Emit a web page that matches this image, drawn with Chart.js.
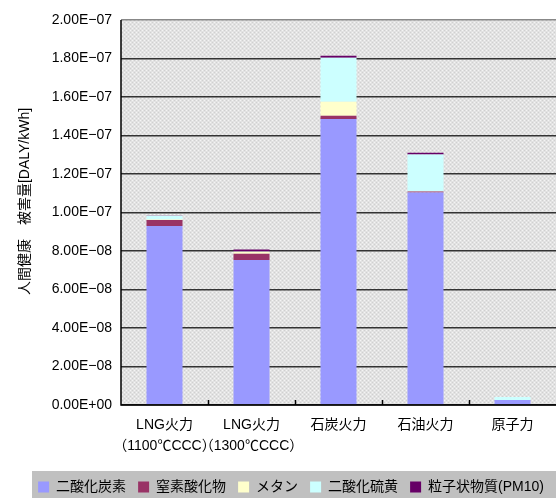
<!DOCTYPE html>
<html>
<head>
<meta charset="utf-8">
<script src="https://cdn.jsdelivr.net/npm/chart.js@4"></script>
<style>
  html, body { margin: 0; padding: 0; background: #fff; overflow: hidden; }
  #wrap { width: 556px; height: 498px; }
</style>
</head>
<body>
<div id="wrap"><canvas id="chart" width="556" height="498"></canvas></div>
<script>
// ================= DATA =================
const categories = [
  ["LNG火力", "（1100℃CCC）"],
  ["LNG火力", "（1300℃CCC）"],
  ["石炭火力"],
  ["石油火力"],
  ["原子力"]
];

const co2  = [9.30e-8, 7.53e-8, 14.86e-8, 11.04e-8, 0.26e-8];
const nox  = [0.31e-8, 0.33e-8, 0.16e-8, 0.05e-8, 0.00e-8];
const ch4  = [0.02e-8, 0.10e-8, 0.73e-8, 0.01e-8, 0.00e-8];
const so2  = [0.20e-8, 0.02e-8, 2.29e-8, 1.91e-8, 0.16e-8];
const pm10 = [0.02e-8, 0.10e-8, 0.10e-8, 0.10e-8, 0.00e-8];

const seriesNames = ["二酸化炭素", "窒素酸化物", "メタン", "二酸化硫黄", "粒子状物質(PM10)"];
const yTitle = "人間健康　被害量[DALY/kWh]";
const yMax = 2e-7;
const yStep = 2e-8;

// ================= STYLE =================
const FONT = '"Liberation Sans", "Noto Sans CJK JP", sans-serif';
const colors = ["#9999ff", "#993366", "#ffffcc", "#ccffff", "#660066"];

// ================= FORMAT =================
function sci(v) {
  if (Math.abs(v) < 1e-20) return "0.00E+00";
  let e = Math.floor(Math.log10(Math.abs(v)) + 1e-9);
  let m = v / Math.pow(10, e);
  let sign = e < 0 ? "−" : "+";
  return m.toFixed(2) + "E" + sign + String(Math.abs(e)).padStart(2, "0");
}

// ================= PATTERN =================
function makePattern(ctx) {
  const p = document.createElement("canvas");
  p.width = 4; p.height = 4;
  const c = p.getContext("2d");
  c.fillStyle = "#e2e2e2";
  c.fillRect(0, 0, 4, 4);
  c.fillStyle = "#f4f4f4";
  c.fillRect(0, 0, 1, 1);
  c.fillRect(2, 2, 1, 1);
  c.fillStyle = "#d0d0d0";
  c.fillRect(2, 0, 1, 1);
  c.fillRect(0, 2, 1, 1);
  return ctx.createPattern(p, "repeat");
}

const plotBg = {
  id: "plotBg",
  beforeDraw(chart) {
    const { ctx, chartArea: a } = chart;
    ctx.save();
    ctx.fillStyle = makePattern(ctx);
    ctx.fillRect(a.left, a.top, a.right - a.left, a.bottom - a.top);
    // legend band
    ctx.fillStyle = "#c0c0c0";
    ctx.fillRect(32, chart.height - 27, chart.width - 32, 27);
    ctx.restore();
  },
  afterDatasetsDraw(chart) {
    const { ctx, chartArea: a, scales } = chart;
    const x = scales.x;
    ctx.save();
    ctx.strokeStyle = "#000";
    ctx.lineWidth = 1.5;
    // category separator ticks (inside)
    for (let i = 1; i < categories.length; i++) {
      const px = Math.round((x.getPixelForTick(i - 1) + x.getPixelForTick(i)) / 2) + 0.5;
      ctx.beginPath();
      ctx.moveTo(px, a.bottom);
      ctx.lineTo(px, a.bottom - 5);
      ctx.stroke();
    }
    // axes
    ctx.beginPath();
    ctx.moveTo(a.left, a.top);
    ctx.lineTo(a.left, a.bottom);
    ctx.lineTo(a.right, a.bottom);
    ctx.stroke();
    ctx.restore();
  },
  afterDraw(chart) {
    // y axis title (sits a bit above the plot centre, like the original)
    const { ctx, chartArea: a } = chart;
    ctx.save();
    ctx.translate(25, (a.top + a.bottom) / 2 - 11);
    ctx.rotate(-Math.PI / 2);
    ctx.font = "14px " + FONT;
    ctx.fillStyle = "#000";
    ctx.textAlign = "center";
    ctx.textBaseline = "middle";
    ctx.fillText(yTitle, 0, 0);
    ctx.restore();
  }
};

// ================= CHART =================
const datasets = [co2, nox, ch4, so2, pm10].map((d, i) => ({
  label: seriesNames[i],
  data: d,
  backgroundColor: colors[i],
  borderWidth: 0,
  categoryPercentage: 1,
  barPercentage: 0.414
}));

new Chart(document.getElementById("chart"), {
  type: "bar",
  data: { labels: categories, datasets: datasets },
  plugins: [plotBg],
  options: {
    responsive: false,
    animation: false,
    layout: { padding: { top: 20, right: 0, left: 0, bottom: -6 } },
    plugins: {
      tooltip: { enabled: false },
      legend: {
        position: "bottom",
        align: "end",
        labels: {
          color: "#000",
          font: { family: FONT, size: 14 },
          boxWidth: 11,
          boxHeight: 11,
          padding: 12
        }
      }
    },
    scales: {
      x: {
        stacked: true,
        grid: { display: false, drawTicks: false },
        border: { display: false },
        ticks: {
          color: "#000",
          font: { family: FONT, size: 14, lineHeight: 1.5 },
          padding: 10,
          maxRotation: 0,
          autoSkip: false
        },
        afterFit(s) { s.height = 63; }
      },
      y: {
        stacked: true,
        min: 0,
        max: yMax,
        grid: {
          color: ctx => ctx.index === 10 ? "#888" : "#333",
          lineWidth: 1.5,
          drawTicks: false
        },
        border: { display: false },
        ticks: {
          stepSize: yStep,
          color: "#000",
          font: { family: FONT, size: 14 },
          padding: 9,
          callback: v => sci(v)
        },
        afterFit(s) { s.width = 121; }
      }
    }
  }
});
</script>
</body>
</html>
